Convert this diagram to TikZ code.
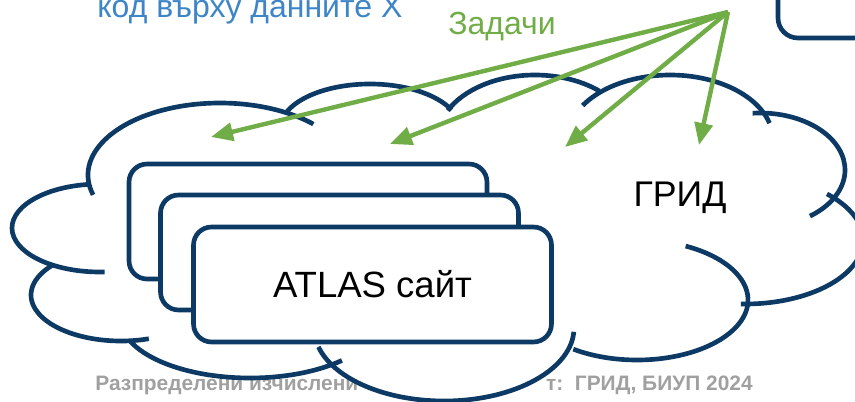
\documentclass[tikz,border=0pt]{standalone}
\usepackage{fontspec}
\setmainfont{Liberation Sans}
\usetikzlibrary{arrows.meta}
\definecolor{gridnavy}{HTML}{0D3A64}
\definecolor{taskgreen}{HTML}{70AD47}
\definecolor{codeblue}{HTML}{3D85C6}
\definecolor{footgray}{HTML}{A0A0A0}
\begin{document}
\begin{tikzpicture}[x=0.02cm, y=-0.02cm,
    cloudline/.style={gridnavy, line width=2.65pt},
    sitebox/.style={draw=gridnavy, line width=2.65pt, fill=white, rounded corners=0.36cm,
      minimum width=7.16cm, minimum height=2.3cm, inner sep=0pt},
    task/.style={taskgreen, line width=2.5pt, -{Triangle[length=0.44cm, width=0.36cm]}}]
  \useasboundingbox (0,0) rectangle (855,402);
  \clip (0,0) rectangle (855,402);
  % footer, partly hidden by the cloud
  \node[anchor=base west, inner sep=0pt, text=footgray, font=\bfseries\fontsize{11.9}{14}\selectfont] (footl) at (95,390) {Разпределени изчислени};
  \node[anchor=base east, inner sep=0pt, text=footgray, font=\bfseries\fontsize{11.9}{14}\selectfont] (footr) at (753,390) {т:\ \ ГРИД, БИУП 2024};
  % cloud body
  \fill[white] (90,190) -- (287,113) -- (452,102) -- (597,93) -- (767,120) -- (833,190)
    -- (747,302) -- (573,350) -- (342,360) -- (127,341) -- (56,266) -- cycle;
  \fill[white] (100,228) ellipse[x radius=88, y radius=44];
  \fill[white] (220,175) ellipse[x radius=132, y radius=72];
  \fill[white] (370,129) ellipse[x radius=90, y radius=45];
  \fill[white] (535,140) ellipse[x radius=98, y radius=65];
  \fill[white] (670,140) ellipse[x radius=103, y radius=65];
  \fill[white] (760,170) ellipse[x radius=85, y radius=57];
  \fill[white] (745,240) ellipse[x radius=118, y radius=64];
  \fill[white] (637,300) ellipse[x radius=111, y radius=60];
  \fill[white] (444,328) ellipse[x radius=130, y radius=73];
  \fill[white] (250,318) ellipse[x radius=130, y radius=60];
  \fill[white] (121,295) ellipse[x radius=90, y radius=46];
  % cloud outline, one arc per lobe
  \draw[cloudline] (100,228) ++(264:88 and 44) arc[start angle=264, end angle=87, x radius=88, y radius=44];
  \draw[cloudline] (220,175) ++(164:132 and 72) arc[start angle=164, end angle=315, x radius=132, y radius=72];
  \draw[cloudline] (370,129) ++(203:90 and 45) arc[start angle=203, end angle=335, x radius=90, y radius=45];
  \draw[cloudline] (535,140) ++(207:98 and 65) arc[start angle=207, end angle=311, x radius=98, y radius=65];
  \draw[cloudline] (670,140) ++(212:103 and 65) arc[start angle=212, end angle=345, x radius=103, y radius=65];
  \draw[cloudline] (760,170) ++(265:85 and 57) arc[start angle=265, end angle=414, x radius=85, y radius=57];
  \draw[cloudline] (745,240) ++(-46:118 and 64) arc[start angle=-46, end angle=92, x radius=118, y radius=64];
  \draw[cloudline] (637,300) ++(-64:111 and 60) arc[start angle=-64, end angle=125, x radius=111, y radius=60];
  \draw[cloudline] (444,328) ++(3:130 and 73) arc[start angle=3, end angle=165, x radius=130, y radius=73];
  \draw[cloudline] (250,318) ++(45:130 and 60) arc[start angle=45, end angle=158, x radius=130, y radius=60];
  \draw[cloudline] (121,295) ++(72:90 and 46) arc[start angle=72, end angle=221, x radius=90, y radius=46];
  % sites
  \node[sitebox] (site1) at (308,221.5) {};
  \node[sitebox] (site2) at (339.5,252.5) {};
  \node[sitebox, font=\fontsize{20.8}{24}\selectfont] (site3) at (372.5,284.5) {ATLAS сайт};
  \node[draw=gridnavy, line width=2.65pt, rounded corners=0.4cm, minimum width=2.84cm, minimum height=1.56cm] (topbox) at (849,-1) {};
  % labels
  \node[font=\fontsize{20.3}{24}\selectfont] (grid) at (680,198) {ГРИД};
  \node[anchor=base west, inner sep=0pt, text=codeblue, font=\fontsize{18.2}{22}\selectfont] (code) at (97,18) {код върху данните X};
  \node[text=taskgreen, font=\fontsize{18.2}{22}\selectfont] (tasks) at (502,27) {Задачи};
  % tasks sent into the grid
  \coordinate (src) at (728,12);
  \coordinate (t1) at (211,137);
  \coordinate (t2) at (390,144);
  \coordinate (t3) at (565,147);
  \coordinate (t4) at (699,145);
  \draw[task] (src) -- (t1);
  \draw[task] (src) -- (t2);
  \draw[task] (src) -- (t3);
  \draw[task] (src) -- (t4);
\end{tikzpicture}
\end{document}
